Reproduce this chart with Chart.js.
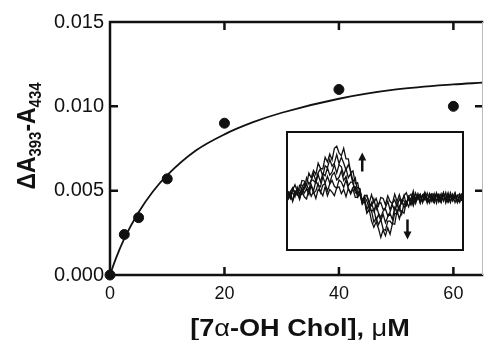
<!DOCTYPE html>
<html>
<head>
<meta charset="utf-8">
<script src="https://cdn.jsdelivr.net/npm/chart.js@4.4.0/dist/chart.umd.min.js"></script>
<style>
  html, body { margin: 0; padding: 0; background: #fff; }
  #wrap { position: relative; width: 488px; height: 340px; }
  #inset { position: absolute; left: 286px; top: 131px; width: 174px; height: 116px; border: 2.5px solid #111; background: #fff; }
  #inset canvas { display: block; }
</style>
</head>
<body>
<div id="wrap">
  <canvas id="mainChart" width="488" height="340"></canvas>
  <div id="inset"><canvas id="insetChart" width="174" height="116"></canvas></div>
</div>
<script>
// binding data: 7a-OH cholesterol (uM) vs dA393-A434
const conc = [0, 2.5, 5, 10, 20, 40, 60];
const deltaA = [0, 0.0024, 0.0034, 0.0057, 0.0090, 0.0110, 0.0100];

// fitted hyperbola
const fitConc = [0, 1, 2.5, 5, 7.5, 10, 15, 20, 25, 30, 40, 50, 60, 65];
const fitDeltaA = [0, 0.00096, 0.00216, 0.00372, 0.00495, 0.00592, 0.00738, 0.00834, 0.00906, 0.00962, 0.01045, 0.01100, 0.01130, 0.01140];

const xTicks = [0, 20, 40, 60];
const yTicks = [0, 0.005, 0.010, 0.015];

// inset: difference spectra, wavelength (nm) vs dA x 10^4
const wavelengths = [350, 352, 354, 356, 358, 360, 362, 364, 366, 368, 370, 372, 374, 376, 378, 380, 382, 384, 386,
  388, 390, 392, 394, 396, 398, 400, 402, 404, 406, 408, 410, 412, 414, 416, 418, 420, 422, 424, 426, 428, 430,
  432, 434, 436, 438, 440, 442, 444, 446, 448, 450, 452, 454, 456, 458, 460, 462, 464, 466, 468, 470, 472, 474,
  476, 478, 480, 482, 484, 486, 488, 490, 492, 494, 496, 498, 500];
const spec1 = [10, -3, 12, 22, 10, 11, 30, 29, 21, 44, 35, 49, 41, 63, 53, 52, 74, 65, 80, 69, 91, 95, 82, 77, 91, 71,
  71, 45, 48, 24, 26, 4, -15, -9, -32, -25, -47, -59, -49, -61, -78, -64, -75, -60, -72, -52, -53, -27, -43, -28,
  -32, -10, -20, -5, -18, -3, 3, -11, 2, -7, 6, -10, -1, -12, 3, -6, 5, -9, 7, -11, 1, -8, 4, -12, 0, 3];
const spec2 = [-3, 9, 16, 6, 2, 21, 21, 14, 35, 23, 29, 43, 29, 45, 52, 38, 58, 54, 70, 57, 63, 79, 62, 74, 63, 50,
  60, 48, 28, 35, 7, 8, -10, -4, -31, -26, -27, -49, -41, -54, -44, -62, -65, -47, -47, -53, -32, -34, -20, -34,
  -14, -17, -4, -16, -2, -14, 2, -1, -11, 7, -8, 0, -10, 5, -13, 3, -6, 6, -9, 1, -12, 4, -5, 2, -11, 6];
const spec3 = [6, -4, 15, 5, 15, 3, 16, 25, 13, 12, 31, 30, 25, 41, 27, 43, 39, 54, 40, 46, 60, 44, 60, 56, 40, 53,
  35, 43, 24, 11, 17, 14, -10, -6, -25, -15, -29, -24, -46, -35, -46, -34, -50, -39, -33, -44, -21, -29, -20, -9,
  -21, -15, -2, -15, 5, -9, 1, -13, 3, 0, -10, 5, -5, -12, 2, 4, -9, 7, -7, -11, 3, -6, 6, -10, 1, -8];
const spec4 = [-7, 8, 6, -1, 17, 5, 3, 18, 23, 10, 21, 10, 29, 21, 18, 37, 25, 38, 25, 40, 45, 31, 36, 48, 30, 38,
  20, 27, 27, 7, 4, 12, -13, -1, -9, -24, -12, -28, -16, -32, -40, -28, -24, -37, -30, -16, -28, -12, -26, -7,
  -9, -17, 0, -9, -13, 6, -6, 3, -10, 1, -13, 5, 0, -9, 6, -8, -11, 3, -5, 7, -10, 2, -12, 0, 5, -7];
const spec5 = [9, -2, -7, 10, 7, -4, 15, 6, 14, 3, 21, 6, 10, 24, 7, 21, 24, 10, 23, 30, 19, 15, 31, 27, 17, 31,
  14, 7, 17, 18, -2, 4, -12, 2, 1, -13, -18, -5, -25, -14, -12, -25, -22, -9, -26, -13, -7, -20, -5, -13,
  2, -16, -1, 4, -8, -6, 5, -12, 2, 7, -7, -10, 3, -6, 6, -11, -1, 4, -13, 2, 0, -9, 6, -8, -11, 3];
const spec6 = [-5, 8, -10, 4, 7, -6, 11, -1, -5, 13, 0, 9, -4, 13, 9, 1, 18, 1, 13, 8, 1, 16, 18, 5, 13, -1,
  15, 4, 14, -2, -2, 11, -8, 0, 2, -13, 3, -12, -4, -18, -2, -4, -16, 1, -10, -14, 4, -10, 3, -12,
  1, 7, -7, -5, 10, -11, -1, 4, -12, 2, -6, -13, 5, 3, -8, 0, -12, 6, -7, -10, 7, -5, 2, -11, 1, -9];
const spectra = [spec1, spec2, spec3, spec4, spec5, spec6];

// arrows: [wavelength, from, to]
const upArrow = [414, 47, 83];
const downArrow = [453, -44, -82];

const FONT = "'Liberation Sans', Arial, Helvetica, sans-serif";
const INK = '#111';

function drawRuns(ctx, runs, cx, baseline, sx) {
  let total = 0;
  runs.forEach(r => {
    ctx.font = r.font;
    r.w = ctx.measureText(r.text).width * sx;
    total += r.w;
  });
  let xx = cx - total / 2;
  runs.forEach(r => {
    ctx.save();
    ctx.font = r.font;
    ctx.translate(xx, baseline + (r.dy || 0));
    ctx.scale(sx, 1);
    ctx.fillText(r.text, 0, 0);
    ctx.restore();
    xx += r.w;
  });
}

const framePlugin = {
  id: 'frame',
  afterDraw(chart) {
    const { ctx, chartArea: a, scales: { x, y } } = chart;
    ctx.save();
    ctx.strokeStyle = INK;
    ctx.lineWidth = 2.5;
    ctx.lineCap = 'square';
    ctx.beginPath();
    ctx.moveTo(a.left, a.top);
    ctx.lineTo(a.left, a.bottom);
    ctx.lineTo(a.right, a.bottom);
    ctx.moveTo(a.left, a.top);
    ctx.lineTo(a.right, a.top);
    ctx.stroke();

    ctx.lineCap = 'butt';
    ctx.beginPath();
    xTicks.forEach(v => {
      if (v === 0) return;
      const px = x.getPixelForValue(v);
      ctx.moveTo(px, a.bottom);
      ctx.lineTo(px, a.bottom - 8);
      ctx.moveTo(px, a.top);
      ctx.lineTo(px, a.top + 8);
    });
    yTicks.forEach(v => {
      if (v === 0 || v === 0.015) return;
      const py = y.getPixelForValue(v);
      ctx.moveTo(a.left, py);
      ctx.lineTo(a.left + 8, py);
      ctx.moveTo(a.right, py);
      ctx.lineTo(a.right - 7, py);
    });
    ctx.stroke();

    // faint right edge
    ctx.strokeStyle = '#bbb';
    ctx.lineWidth = 1;
    ctx.beginPath();
    ctx.moveTo(a.right + 0.5, a.top);
    ctx.lineTo(a.right + 0.5, a.bottom);
    ctx.stroke();

    // titles
    ctx.fillStyle = INK;
    ctx.textBaseline = 'alphabetic';
    ctx.textAlign = 'left';
    const b = 'bold 24px ' + FONT;
    const n = '24px ' + FONT;
    drawRuns(ctx, [
      { text: '[7', font: b }, { text: 'α', font: n }, { text: '-OH Chol], ', font: b },
      { text: 'μ', font: n }, { text: 'M', font: b }
    ], 300, 336, 1.13);

    ctx.translate(35, 136);
    ctx.rotate(-Math.PI / 2);
    const big = 'bold 26px ' + FONT;
    const sub = 'bold 17px ' + FONT;
    drawRuns(ctx, [
      { text: 'ΔA', font: big }, { text: '393', font: sub, dy: 6 },
      { text: '-A', font: big }, { text: '434', font: sub, dy: 6 }
    ], 0, 0, 0.88);
    ctx.restore();
  }
};

new Chart(document.getElementById('mainChart'), {
  type: 'scatter',
  data: {
    datasets: [{
      label: 'data',
      data: conc.map((c, i) => ({ x: c, y: deltaA[i] })),
      backgroundColor: INK,
      borderColor: INK,
      pointRadius: 5,
      pointHoverRadius: 5,
      clip: false
    }, {
      label: 'fit',
      data: fitConc.map((c, i) => ({ x: c, y: fitDeltaA[i] })),
      showLine: true,
      borderColor: INK,
      borderWidth: 1.8,
      pointRadius: 0,
      cubicInterpolationMode: 'monotone'
    }]
  },
  options: {
    responsive: false,
    animation: false,
    layout: { padding: { top: 22, right: 1, left: 0, bottom: 0 } },
    plugins: { legend: { display: false }, tooltip: { enabled: false } },
    scales: {
      x: {
        type: 'linear',
        min: 0,
        max: 65,
        afterBuildTicks: s => { s.ticks = xTicks.map(v => ({ value: v })); },
        afterFit: s => { s.height = 65; },
        grid: { display: false, drawTicks: false },
        border: { display: false },
        ticks: { color: INK, padding: 8, font: { family: FONT, size: 18 } }
      },
      y: {
        min: 0,
        max: 0.015,
        afterBuildTicks: s => { s.ticks = yTicks.map(v => ({ value: v })); },
        afterFit: s => { s.width = 110; },
        grid: { display: false, drawTicks: false },
        border: { display: false },
        ticks: {
          color: INK, padding: 6, font: { family: FONT, size: 20 },
          callback: v => v.toFixed(3)
        }
      }
    }
  },
  plugins: [framePlugin]
});

const arrowPlugin = {
  id: 'arrows',
  afterDraw(chart) {
    const { ctx, scales: { x, y } } = chart;
    ctx.save();
    ctx.strokeStyle = INK;
    ctx.fillStyle = INK;
    ctx.lineWidth = 2.5;
    [upArrow, downArrow].forEach(([w, from, to]) => {
      const px = x.getPixelForValue(w);
      const y0 = y.getPixelForValue(from);
      const y1 = y.getPixelForValue(to);
      const dir = y1 < y0 ? -1 : 1;
      ctx.beginPath();
      ctx.moveTo(px, y0);
      ctx.lineTo(px, y1 - dir * 6);
      ctx.stroke();
      ctx.beginPath();
      ctx.moveTo(px, y1);
      ctx.lineTo(px - 4, y1 - dir * 8);
      ctx.lineTo(px + 4, y1 - dir * 8);
      ctx.closePath();
      ctx.fill();
    });
    ctx.restore();
  }
};

new Chart(document.getElementById('insetChart'), {
  type: 'line',
  data: {
    datasets: spectra.map((s, k) => ({
      label: 'spectrum ' + (k + 1),
      data: wavelengths.map((w, i) => ({ x: w, y: s[i] })),
      borderColor: INK,
      borderWidth: 1.3,
      pointRadius: 0,
      tension: 0
    }))
  },
  options: {
    responsive: false,
    animation: false,
    layout: { padding: 0 },
    plugins: { legend: { display: false }, tooltip: { enabled: false } },
    scales: {
      x: { type: 'linear', min: 350, max: 500, display: false },
      y: { min: -100, max: 120, display: false }
    }
  },
  plugins: [arrowPlugin]
});
</script>
</body>
</html>
